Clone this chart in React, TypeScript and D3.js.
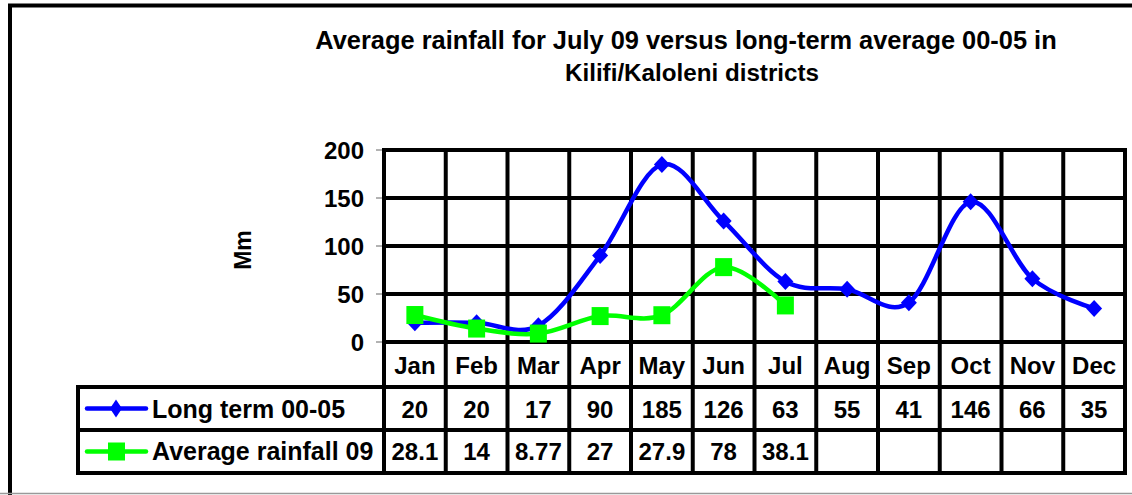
import React from "react";
import * as d3 from "d3";

const months = ["Jan", "Feb", "Mar", "Apr", "May", "Jun", "Jul", "Aug", "Sep", "Oct", "Nov", "Dec"];
const longTerm = [20, 20, 17, 90, 185, 126, 63, 55, 41, 146, 66, 35];
const rain09 = [28.1, 14, 8.77, 27, 27.9, 78, 38.1];
const rain09Labels = ["28.1", "14", "8.77", "27", "27.9", "78", "38.1"];
const yTicks = [0, 50, 100, 150, 200];
const seriesNames = ["Long term 00-05", "Average rainfall 09"];

const W = 1132;
const H = 495;
const FONT = "'Liberation Sans', Arial, sans-serif";

export default function App() {
  const plotL = 384;
  const plotR = 1125;
  const tableL = 78;
  const catBottom = 387;
  const row1Bottom = 430;
  const row2Bottom = 473;

  const x = d3.scaleBand<string>().domain(months).range([plotL, plotR]);
  const y = d3.scaleLinear().domain([0, 200]).range([342, 150]);
  const cx = (m: string) => (x(m) ?? 0) + x.bandwidth() / 2;

  // excel-like smoothing
  const line = d3
    .line<number>()
    .x((_d, i) => cx(months[i]))
    .y((d) => y(d))
    .curve(d3.curveCatmullRom.alpha(0));

  const gridW = 4;
  const rowMid1 = (catBottom + row1Bottom) / 2;
  const rowMid2 = (row1Bottom + row2Bottom) / 2;

  const diamond = (px: number, py: number, r: number, ry = r) =>
    `M${px},${py - ry}L${px + r},${py}L${px},${py + ry}L${px - r},${py}Z`;

  return (
    <div>
      <style>{`body{margin:0}`}</style>
      <svg width={W} height={H} style={{ display: "block", background: "#fff" }} fontFamily={FONT} fontWeight="bold">
        {/* outer frame */}
        <line x1={8} x2={W} y1={5.5} y2={5.5} stroke="#000" strokeWidth={4} />
        <line x1={10} x2={10} y1={4} y2={H} stroke="#000" strokeWidth={4} />
        <line x1={0} x2={W} y1={493.5} y2={493.5} stroke="#999" strokeWidth={1.5} />

        {/* title */}
        <text x={686} y={49} textAnchor="middle" fontSize={25.4}>
          Average rainfall for July 09 versus long-term average 00-05 in
        </text>
        <text x={692} y={81} textAnchor="middle" fontSize={24.2}>
          Kilifi/Kaloleni districts
        </text>

        {/* y axis label */}
        <text transform="translate(251,250) rotate(-90)" textAnchor="middle" fontSize={23}>
          Mm
        </text>

        {/* y ticks */}
        {yTicks.map((t) => (
          <g key={t}>
            <line x1={376} x2={plotL} y1={y(t)} y2={y(t)} stroke="#666" strokeWidth={1} />
            <text x={364} y={y(t) + 8.5} textAnchor="end" fontSize={24}>
              {t}
            </text>
          </g>
        ))}

        {/* horizontal grid */}
        {yTicks.map((t) => (
          <line key={"h" + t} x1={plotL} x2={plotR} y1={y(t)} y2={y(t)} stroke="#000" strokeWidth={gridW} />
        ))}

        {/* table horizontal lines */}
        <line x1={tableL} x2={plotR} y1={catBottom} y2={catBottom} stroke="#000" strokeWidth={gridW} />
        <line x1={tableL} x2={plotR} y1={row1Bottom} y2={row1Bottom} stroke="#000" strokeWidth={gridW} />
        <line x1={tableL} x2={plotR} y1={row2Bottom} y2={row2Bottom} stroke="#000" strokeWidth={gridW} />
        <line x1={tableL} x2={tableL} y1={catBottom - 2} y2={row2Bottom + 2} stroke="#000" strokeWidth={gridW} />

        {/* vertical grid through table */}
        {[...months.map((m) => x(m) ?? 0), plotR].map((vx, i) => (
          <line key={"v" + i} x1={vx} x2={vx} y1={y(200) - 2} y2={row2Bottom + 2} stroke="#000" strokeWidth={gridW} />
        ))}

        {/* category labels */}
        {months.map((m) => (
          <text key={m} x={cx(m)} y={374} textAnchor="middle" fontSize={24}>
            {m}
          </text>
        ))}

        {/* table values */}
        {longTerm.map((v, i) => (
          <text key={"lt" + i} x={cx(months[i])} y={418} textAnchor="middle" fontSize={24}>
            {v}
          </text>
        ))}
        {rain09Labels.map((v, i) => (
          <text key={"r" + i} x={cx(months[i])} y={460} textAnchor="middle" fontSize={24}>
            {v}
          </text>
        ))}

        {/* legend keys */}
        <line x1={87} x2={146} y1={rowMid1} y2={rowMid1} stroke="#0000ff" strokeWidth={4.5} strokeLinecap="round" />
        <path d={diamond(116, rowMid1, 6, 9)} fill="#0000ff" />
        <text x={152} y={418} fontSize={25}>
          {seriesNames[0]}
        </text>
        <line x1={87} x2={146} y1={rowMid2} y2={rowMid2} stroke="#00ff00" strokeWidth={4.5} strokeLinecap="round" />
        <rect x={108} y={rowMid2 - 9} width={17} height={18} fill="#00ff00" />
        <text x={152} y={460} fontSize={25}>
          {seriesNames[1]}
        </text>

        {/* series */}
        <path d={line(longTerm) ?? ""} fill="none" stroke="#0000ff" strokeWidth={4.5} />
        {longTerm.map((v, i) => (
          <path key={"d" + i} d={diamond(cx(months[i]), y(v), 8, 8.5)} fill="#0000ff" />
        ))}
        <path d={line(rain09) ?? ""} fill="none" stroke="#00ff00" strokeWidth={4.5} />
        {rain09.map((v, i) => (
          <rect key={"s" + i} x={cx(months[i]) - 8.5} y={y(v) - 9} width={17} height={18} fill="#00ff00" />
        ))}
      </svg>
    </div>
  );
}
